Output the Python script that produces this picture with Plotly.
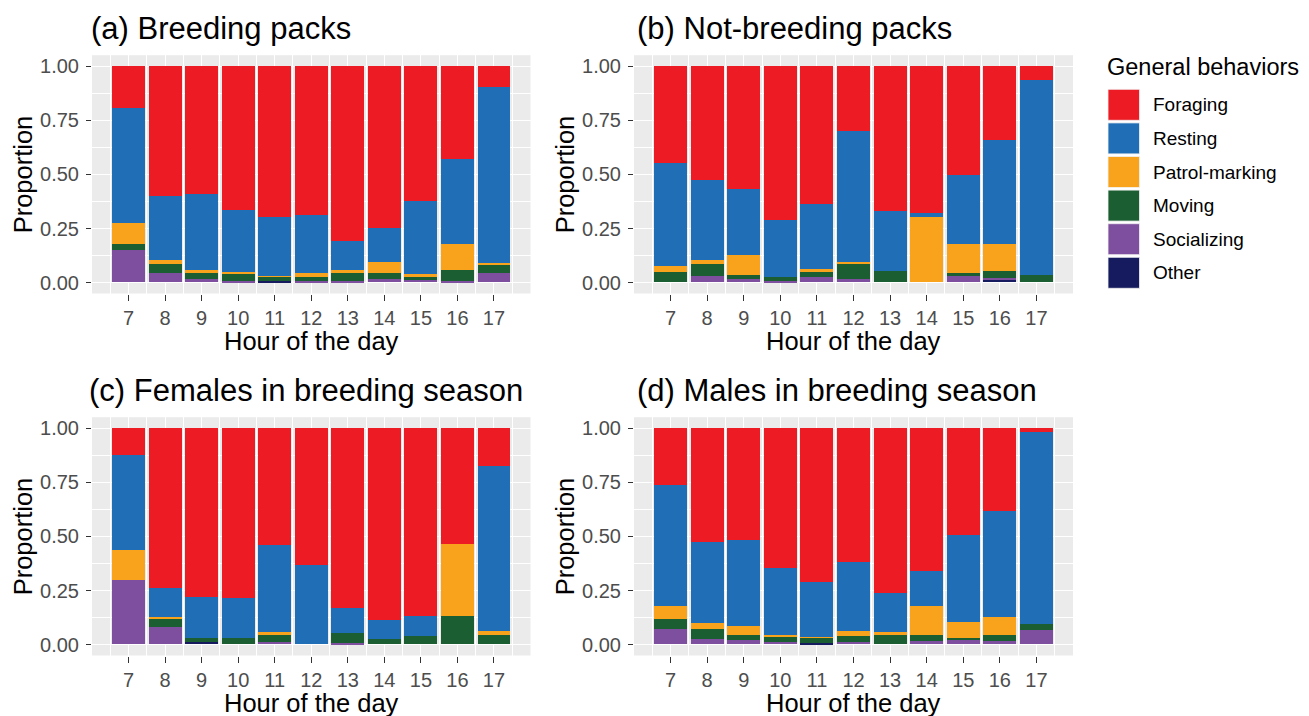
import plotly.graph_objects as go

W, H = 1309, 716

hours = list(range(7, 18))
behaviors = ["Foraging", "Resting", "Patrol-marking", "Moving", "Socializing", "Other"]
colors = ["#ED1C24", "#1F6EB6", "#F9A31D", "#1B5E32", "#7F4F9F", "#151B5E"]
panel_titles = ["(a) Breeding packs", "(b) Not-breeding packs",
                "(c) Females in breeding season", "(d) Males in breeding season"]
y_ticks = [0, 0.25, 0.5, 0.75, 1.0]

# (a) Breeding packs
a_foraging = [.195, .599, .590, .665, .697, .688, .810, .747, .622, .431, .097]
a_resting = [.530, .295, .351, .285, .272, .266, .131, .160, .341, .390, .813]
a_patrol = [.096, .021, .016, .010, .005, .020, .016, .047, .014, .120, .010]
a_moving = [.028, .042, .026, .032, .018, .018, .037, .032, .011, .054, .034]
a_social = [.151, .043, .017, .008, 0, .008, .006, .014, .012, .005, .046]
a_other = [0, 0, 0, 0, .008, 0, 0, 0, 0, 0, 0]

# (b) Not-breeding packs
b_foraging = [.447, .528, .568, .711, .636, .300, .668, .679, .506, .342, .066]
b_resting = [.477, .367, .307, .263, .304, .604, .278, .017, .315, .479, .900]
b_patrol = [.026, .020, .091, 0, .012, .013, 0, .304, .133, .128, 0]
b_moving = [.050, .054, .020, .020, .023, .067, .054, 0, .014, .029, .034]
b_social = [0, .031, .014, .006, .025, .016, 0, 0, .032, .012, 0]
b_other = [0, 0, 0, 0, 0, 0, 0, 0, 0, .010, 0]

# (c) Females in breeding season
c_foraging = [.126, .739, .779, .784, .539, .633, .830, .889, .870, .535, .178]
c_resting = [.436, .134, .189, .184, .404, .367, .119, .088, .093, 0, .760]
c_patrol = [.142, .009, 0, 0, .015, 0, 0, 0, 0, .335, .016]
c_moving = [0, .038, .020, .032, .031, 0, .045, .023, .037, .130, .046]
c_social = [.296, .080, 0, 0, .011, 0, .006, 0, 0, 0, 0]
c_other = [0, 0, .012, 0, 0, 0, 0, 0, 0, 0, 0]

# (d) Males in breeding season
d_foraging = [.266, .526, .517, .646, .711, .620, .762, .660, .495, .383, .018]
d_resting = [.556, .377, .396, .308, .255, .318, .181, .162, .401, .492, .886]
d_patrol = [.062, .024, .044, .007, .004, .023, .014, .135, .073, .083, 0]
d_moving = [.045, .047, .021, .027, .024, .027, .043, .027, .008, .028, .029]
d_social = [.071, .026, .022, .012, 0, .012, 0, .016, .023, .014, .067]
d_other = [0, 0, 0, 0, .006, 0, 0, 0, 0, 0, 0]

panels = [
    [a_foraging, a_resting, a_patrol, a_moving, a_social, a_other],
    [b_foraging, b_resting, b_patrol, b_moving, b_social, b_other],
    [c_foraging, c_resting, c_patrol, c_moving, c_social, c_other],
    [d_foraging, d_resting, d_patrol, d_moving, d_social, d_other],
]

# panel geometry in pixels (left, right, top, bottom)
cols = [(92, 530.5), (634, 1073)]
rows = [(55.2, 293.5), (417.2, 655.5)]
title_x = [88.5, 635, 86.5, 635]

FONT = "Liberation Sans, Arial, Helvetica, sans-serif"
fig = go.Figure()
layout = dict(
    width=W, height=H, margin=dict(l=0, r=0, t=0, b=0),
    paper_bgcolor="white", plot_bgcolor="#EBEBEB",
    barmode="stack", bargap=0, showlegend=False,
    font=dict(family=FONT, color="#4D4D4D"),
)
annotations = []
shapes = []

for p in range(4):
    r, c = divmod(p, 2)
    x0, x1 = cols[c]
    y0, y1 = rows[r]
    ax = "" if p == 0 else str(p + 1)
    xa, ya = "x" + ax, "y" + ax
    # stacked: bottom first (reverse of legend order)
    for k in reversed(range(len(behaviors))):
        fig.add_trace(go.Bar(
            x=hours, y=panels[p][k], width=0.9, name=behaviors[k],
            marker=dict(color=colors[k], line=dict(width=0)),
            xaxis=xa, yaxis=ya, hovertemplate="%{x}: %{y:.3f}<extra>" + behaviors[k] + "</extra>",
        ))
    layout["xaxis" + ax] = dict(
        domain=[x0 / W, x1 / W], anchor=ya, range=[6, 18],
        tickvals=hours, ticks="outside", ticklen=6, tickwidth=1.2, tickcolor="#333333",
        tickfont=dict(size=20, color="#4D4D4D", family=FONT),
        showgrid=True, gridcolor="white", gridwidth=1.3, zeroline=False, showline=False,
        minor=dict(dtick=0.5, tick0=6.5, showgrid=True, gridcolor="white", gridwidth=0.6, ticks=""),
        fixedrange=True,
    )
    layout["yaxis" + ax] = dict(
        domain=[1 - y1 / H, 1 - y0 / H], anchor=xa, range=[-0.05, 1.05],
        tickvals=y_ticks, tickformat=".2f", ticks="outside", ticklen=5, tickwidth=1.2,
        tickcolor="#333333", tickfont=dict(size=20, color="#4D4D4D", family=FONT),
        ticklabelstandoff=3,
        showgrid=True, gridcolor="white", gridwidth=1.3, zeroline=False, showline=False,
        minor=dict(dtick=0.125, tick0=0.125, showgrid=True, gridcolor="white", gridwidth=0.6, ticks=""),
        fixedrange=True,
    )
    # panel title
    annotations.append(dict(
        text=panel_titles[p], x=title_x[p] / W, y=1 - (y0 - 27) / H, xref="paper", yref="paper",
        xanchor="left", yanchor="middle", showarrow=False,
        font=dict(size=31, color="black", family=FONT)))
    # axis titles
    annotations.append(dict(
        text="Hour of the day", x=((x0 + x1) / 2) / W, y=1 - (y1 + 47) / H,
        xref="paper", yref="paper", xanchor="center", yanchor="middle", showarrow=False,
        font=dict(size=25.5, color="black", family=FONT)))
    annotations.append(dict(
        text="Proportion", x=(x0 - 69) / W, y=1 - ((y0 + y1) / 2) / H, textangle=-90,
        xref="paper", yref="paper", xanchor="center", yanchor="middle", showarrow=False,
        font=dict(size=25.5, color="black", family=FONT)))

# legend (drawn manually to match ggplot key sizes)
annotations.append(dict(
    text="General behaviors", x=1105 / W, y=1 - 67 / H, xref="paper", yref="paper",
    xanchor="left", yanchor="middle", showarrow=False,
    font=dict(size=23.5, color="black", family=FONT)))
for i, (name, col) in enumerate(zip(behaviors, colors)):
    top = 89.3 + i * 33.6
    shapes.append(dict(type="rect", xref="paper", yref="paper",
                       x0=1108 / W, x1=1139.5 / W, y0=1 - (top + 31) / H, y1=1 - top / H,
                       fillcolor=col, line=dict(width=0.8, color="#F2F2F2")))
    annotations.append(dict(
        text=name, x=1151 / W, y=1 - (top + 15.5) / H, xref="paper", yref="paper",
        xanchor="left", yanchor="middle", showarrow=False,
        font=dict(size=19, color="black", family=FONT)))

layout["annotations"] = annotations
layout["shapes"] = shapes
fig.update_layout(**layout)
fig.write_html("out.html")
